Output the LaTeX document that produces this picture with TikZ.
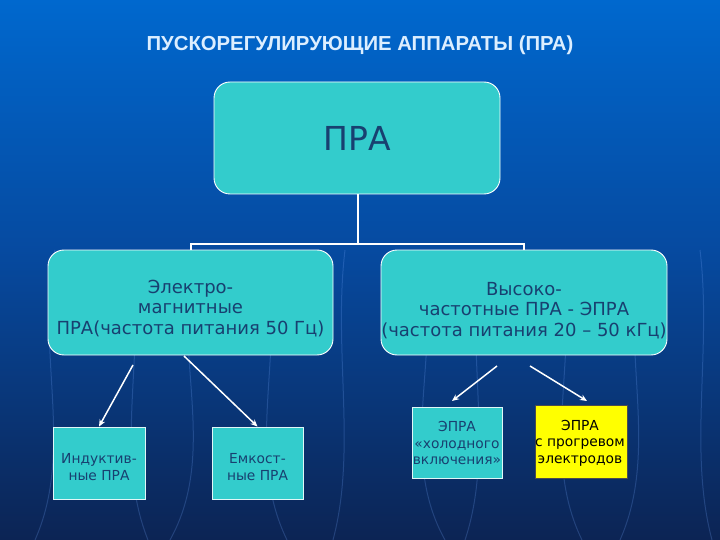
\documentclass[tikz,border=0pt]{standalone}
\usepackage{fontspec}
\setmainfont{DejaVu Sans}
\newfontfamily\titlefont{Liberation Sans}
\usetikzlibrary{arrows.meta}
\definecolor{bgtop}{RGB}{0,104,206}
\definecolor{bgmid}{RGB}{6,74,160}
\definecolor{bgbot}{RGB}{12,36,84}
\definecolor{turq}{RGB}{51,204,204}
\definecolor{boxtext}{RGB}{24,64,112}
\definecolor{titlecol}{RGB}{220,238,255}
\definecolor{yel}{RGB}{255,255,0}
\definecolor{curve}{RGB}{120,170,255}
\tikzset{
  bigbox/.style={draw=white, line width=0.9pt, fill=turq, rounded corners=16pt, inner sep=0pt},
  smallbox/.style={draw=white!85!turq, line width=0.9pt, fill=turq, inner sep=0pt},
  yelbox/.style={draw=black!70, line width=0.8pt, fill=yel, inner sep=0pt},
  wline/.style={draw=white, line width=1.6pt},
  warrow/.style={draw=white, line width=1.5pt, -{Stealth[length=7pt,width=6pt]}},
  midtext/.style={text=boxtext, font=\fontsize{18}{20.5}\selectfont, align=center},
  smalltext/.style={text=boxtext, font=\fontsize{13.8}{16.5}\selectfont, align=center},
  faint/.style={draw=curve, opacity=0.22, line width=1pt}
}
\begin{document}
\begin{tikzpicture}[x=1pt,y=-1pt]
\useasboundingbox (0,0) rectangle (720,540);
\shade[top color=bgtop, bottom color=bgmid] (0,0) rectangle (720,250);
\shade[top color=bgmid, bottom color=bgbot] (0,250) rectangle (720,540);
% faint background curves
\foreach \x/\b in {55/-20,130/18,195/-25,265/22,345/-12,420/25,480/-15,560/22,640/-20,700/12}{
  \draw[faint] (\x,250) .. controls (\x+\b,350) and (\x-\b,450) .. (\x+\b,540);
}
% title
\node[text=titlecol, font=\titlefont\bfseries\fontsize{20.3}{23}\selectfont] (title) at (360,45) {ПУСКОРЕГУЛИРУЮЩИЕ АППАРАТЫ (ПРА)};
% top box
\node[bigbox, minimum width=286pt, minimum height=112pt] (top) at (357,138) {};
\node[text=boxtext, font=\fontsize{33}{36}\selectfont] (toptext) at (top.center) {ПРА};
% middle boxes
\node[bigbox, minimum width=285pt, minimum height=105pt] (left) at (190.5,302.5) {};
\node[bigbox, minimum width=286pt, minimum height=105pt] (right) at (524,302.5) {};
\node[midtext] (lefttext) at (190.5,308.5) {Электро-\\магнитные\\ПРА(частота питания 50 Гц)};
\node[midtext] (righttext) at (524,310.5) {Высоко-\\частотные ПРА - ЭПРА\\(частота питания 20 – 50 кГц)};
% tree connectors
\coordinate (hl) at (191,244);
\coordinate (hr) at (524,244);
\coordinate (hm) at (358,244);
\draw[wline] (top.south -| hm) -- (hm);
\draw[wline] (left.north -| hl) -- (hl) -- (hr) -- (right.north -| hr);
% bottom boxes
\node[smallbox, minimum width=92pt, minimum height=72pt] (ind) at (99,463) {};
\node[smalltext] (indtext) at (99,467) {Индуктив-\\ные ПРА};
\node[smallbox, minimum width=91pt, minimum height=72pt] (cap) at (257.5,463) {};
\node[smalltext] (captext) at (257.5,467) {Емкост-\\ные ПРА};
\node[smallbox, minimum width=90pt, minimum height=71pt] (cold) at (457,442.5) {};
\node[smalltext] (coldtext) at (457,443) {ЭПРА\\«холодного\\включения»};
\node[yelbox, minimum width=92pt, minimum height=73pt] (hot) at (581,441.5) {};
\node[smalltext, text=black] (hottext) at (580,443) {ЭПРА\\с прогревом\\электродов};
% arrows
\coordinate (a1) at (133,365);
\coordinate (a2) at (184,356);
\coordinate (a3) at (497,366);
\coordinate (a4) at (530,366);
\draw[warrow] (a1) -- (ind.north);
\draw[warrow] (a2) -- (cap.north);
\draw[warrow] (a3) -- (452,401);
\draw[warrow] (a4) -- (587,401);
\end{tikzpicture}
\end{document}
